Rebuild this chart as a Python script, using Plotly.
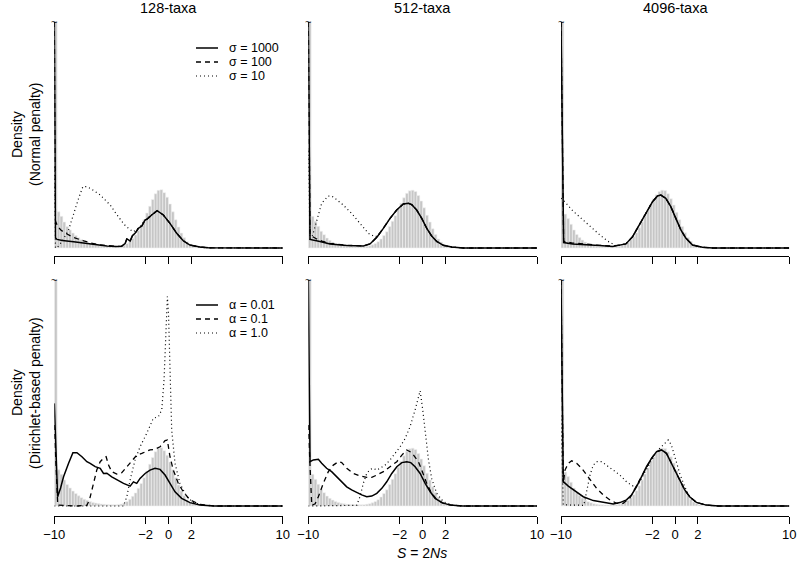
import plotly.graph_objects as go
from plotly.subplots import make_subplots

W, H = 797, 566

# ---------------- data ----------------
HIST_EDGES = [-10.0, -9.75, -9.5, -9.25, -9.0, -8.75, -8.5, -8.25, -8.0, -7.75,
              -7.5, -7.25, -7.0, -6.75, -6.5, -6.25, -6.0, -5.75, -5.5, -5.25,
              -5.0, -4.75, -4.5, -4.25, -4.0, -3.75, -3.5, -3.25, -3.0, -2.75,
              -2.5, -2.25, -2.0, -1.75, -1.5, -1.25, -1.0, -0.75, -0.5, -0.25,
              0.0, 0.25, 0.5, 0.75, 1.0, 1.25, 1.5, 1.75, 2.0, 2.25,
              2.5, 2.75, 3.0, 3.25]
BIN_W = 0.25

HIST_128 = [1.5, 0.16, 0.14, 0.115, 0.095, 0.08, 0.066, 0.055, 0.045, 0.037,
            0.03, 0.025, 0.02, 0.016, 0.013, 0.011, 0.009, 0.008, 0.007, 0.006,
            0.006, 0.006, 0.007, 0.009, 0.013, 0.02, 0.03, 0.043, 0.058, 0.078,
            0.1, 0.125, 0.155, 0.185, 0.215, 0.24, 0.255, 0.258, 0.245, 0.225,
            0.195, 0.16, 0.125, 0.093, 0.066, 0.045, 0.028, 0.017, 0.01, 0.006,
            0.003, 0.002, 0.001, 0.0]
HIST_512 = [1.5, 0.14, 0.118, 0.096, 0.074, 0.059, 0.044, 0.034, 0.026, 0.02,
            0.015, 0.012, 0.01, 0.008, 0.007, 0.006, 0.005, 0.005, 0.005, 0.006,
            0.008, 0.01, 0.014, 0.02, 0.028, 0.04, 0.055, 0.072, 0.095, 0.118,
            0.143, 0.172, 0.198, 0.222, 0.242, 0.253, 0.256, 0.25, 0.232, 0.208,
            0.178, 0.145, 0.115, 0.085, 0.06, 0.04, 0.026, 0.016, 0.009, 0.005,
            0.003, 0.001, 0.0, 0.0]
HIST_4096 = [1.5, 0.15, 0.13, 0.105, 0.08, 0.06, 0.046, 0.035, 0.026, 0.019,
             0.014, 0.01, 0.008, 0.006, 0.005, 0.004, 0.004, 0.004, 0.005, 0.006,
             0.008, 0.012, 0.017, 0.025, 0.036, 0.05, 0.068, 0.09, 0.115, 0.142,
             0.168, 0.195, 0.218, 0.236, 0.25, 0.256, 0.254, 0.24, 0.218, 0.19,
             0.158, 0.125, 0.095, 0.068, 0.046, 0.03, 0.018, 0.011, 0.006, 0.003,
             0.001, 0.0, 0.0, 0.0]

# Normal penalty, 128 taxa
N128_S1000_X = [-10, -9.9, -9.76, -9.3, -8.31, -7.5, -6.86, -6.0, -5.4, -4.6, -4.1, -3.8, -3.65, -3.5, -3.36, -3.15, -2.93, -2.64, -2.49, -2.34, -2.05, -1.9, -1.47, -1.0, -0.45, 0.13, 0.72, 1.29, 1.88, 2.75, 3.5, 10]
N128_S1000_Y = [1.0, 0.045, 0.038, 0.033, 0.028, 0.022, 0.018, 0.013, 0.009, 0.007, 0.008, 0.02, 0.04, 0.036, 0.031, 0.055, 0.065, 0.087, 0.094, 0.097, 0.124, 0.127, 0.146, 0.165, 0.146, 0.109, 0.065, 0.032, 0.013, 0.004, 0.001, 0.0]
N128_S100_X = [-10, -9.9, -9.7, -9.4, -9.0, -8.3, -7.5, -6.8, -6.0, -5.2, -4.6, -4.1, -3.8, -3.65, -3.5, -3.36, -3.15, -2.93, -2.64, -2.49, -2.34, -2.05, -1.9, -1.47, -1.0, -0.45, 0.13, 0.72, 1.29, 1.88, 2.75, 3.5, 10]
N128_S100_Y = [1.0, 0.12, 0.095, 0.078, 0.065, 0.046, 0.033, 0.022, 0.014, 0.009, 0.007, 0.008, 0.02, 0.04, 0.036, 0.031, 0.055, 0.065, 0.087, 0.094, 0.097, 0.124, 0.127, 0.146, 0.165, 0.146, 0.109, 0.065, 0.032, 0.013, 0.004, 0.001, 0.0]
N128_S10_X = [-10, -9.9, -9.7, -9.3, -8.75, -8.31, -7.87, -7.5, -7.2, -6.86, -6.4, -5.98, -5.5, -5.1, -4.7, -4.24, -3.9, -3.51, -3.1, -2.8, -2.49, -2.05, -1.47, -1.0, -0.45, 0.13, 0.72, 1.29, 1.88, 2.75, 3.5, 10]
N128_S10_Y = [0.36, 0.0, 0.005, 0.03, 0.08, 0.153, 0.22, 0.271, 0.272, 0.264, 0.25, 0.235, 0.21, 0.19, 0.16, 0.131, 0.105, 0.087, 0.072, 0.08, 0.094, 0.124, 0.146, 0.165, 0.146, 0.109, 0.065, 0.032, 0.013, 0.004, 0.001, 0.0]

# Normal penalty, 512 taxa
N512_S1000_X = [-10, -9.85, -8.98, -8.1, -6.64, -5.18, -4.6, -4.0, -3.44, -2.85, -2.27, -1.69, -1.25, -0.96, -0.52, -0.08, 0.36, 0.79, 1.23, 1.81, 2.54, 3.56, 10]
N512_S1000_Y = [1.0, 0.038, 0.029, 0.018, 0.011, 0.009, 0.018, 0.048, 0.087, 0.131, 0.168, 0.195, 0.198, 0.192, 0.168, 0.131, 0.087, 0.053, 0.029, 0.012, 0.004, 0.0, 0.0]
N512_S100_X = [-10, -9.85, -9.6, -9.27, -8.8, -8.1, -6.64, -5.18, -4.6, -4.0, -3.44, -2.85, -2.27, -1.69, -1.25, -0.96, -0.52, -0.08, 0.36, 0.79, 1.23, 1.81, 2.54, 3.56, 10]
N512_S100_Y = [1.0, 0.06, 0.05, 0.04, 0.03, 0.02, 0.012, 0.009, 0.018, 0.048, 0.087, 0.131, 0.168, 0.195, 0.198, 0.192, 0.168, 0.131, 0.087, 0.053, 0.029, 0.012, 0.004, 0.0, 0.0]
N512_S10_X = [-10, -9.85, -9.6, -9.27, -8.83, -8.25, -7.9, -7.67, -6.94, -6.21, -5.48, -4.75, -4.16, -3.9, -3.44, -2.85, -2.27, -1.69, -1.25, -0.96, -0.52, -0.08, 0.36, 0.79, 1.23, 1.81, 2.54, 3.56, 10]
N512_S10_Y = [0.43, 0.03, 0.06, 0.124, 0.198, 0.23, 0.228, 0.22, 0.19, 0.153, 0.109, 0.065, 0.05, 0.055, 0.087, 0.131, 0.168, 0.195, 0.198, 0.192, 0.168, 0.131, 0.087, 0.053, 0.029, 0.012, 0.004, 0.0, 0.0]

# Normal penalty, 4096 taxa
N4096_S1000_X = [-10, -9.77, -8.98, -7.82, -6.65, -5.48, -4.9, -4.32, -3.73, -3.15, -2.57, -1.98, -1.55, -1.25, -0.82, -0.38, 0.06, 0.5, 0.93, 1.52, 2.4, 3.3, 10]
N4096_S1000_Y = [1.0, 0.024, 0.018, 0.013, 0.011, 0.007, 0.012, 0.018, 0.05, 0.1, 0.153, 0.205, 0.23, 0.234, 0.22, 0.183, 0.131, 0.08, 0.044, 0.013, 0.003, 0.0, 0.0]
N4096_S100_X = [-10, -9.77, -8.98, -7.82, -6.65, -5.48, -4.9, -4.32, -3.73, -3.15, -2.57, -1.98, -1.55, -1.25, -0.82, -0.38, 0.06, 0.5, 0.93, 1.52, 2.4, 3.3, 10]
N4096_S100_Y = [1.0, 0.03, 0.022, 0.016, 0.012, 0.008, 0.012, 0.018, 0.05, 0.1, 0.153, 0.205, 0.23, 0.234, 0.22, 0.183, 0.131, 0.08, 0.044, 0.013, 0.003, 0.0, 0.0]
N4096_S10_X = [-10, -9.8, -8.98, -7.8, -6.6, -5.9, -5.19, -4.9, -4.32, -3.73, -3.15, -2.57, -1.98, -1.55, -1.25, -0.82, -0.38, 0.06, 0.5, 0.93, 1.52, 2.4, 3.3, 10]
N4096_S10_Y = [0.22, 0.212, 0.165, 0.11, 0.058, 0.03, 0.01, 0.012, 0.018, 0.05, 0.1, 0.153, 0.205, 0.23, 0.234, 0.22, 0.183, 0.131, 0.08, 0.044, 0.013, 0.003, 0.0, 0.0]

# Dirichlet-based penalty, 128 taxa
D128_A001_X = [-10, -9.71, -9.45, -9.19, -8.75, -8.37, -8.02, -7.58, -7.15, -6.86, -6.42, -5.98, -5.69, -5.4, -4.97, -4.53, -3.94, -3.36, -3.07, -2.78, -2.49, -2.05, -1.62, -1.18, -0.74, -0.3, 0.13, 0.57, 1.15, 1.88, 2.75, 4.0, 10]
D128_A001_Y = [0.454, 0.041, 0.08, 0.129, 0.189, 0.236, 0.236, 0.218, 0.196, 0.189, 0.174, 0.167, 0.144, 0.145, 0.129, 0.115, 0.1, 0.088, 0.107, 0.1, 0.122, 0.144, 0.159, 0.167, 0.162, 0.137, 0.1, 0.063, 0.034, 0.015, 0.004, 0.0, 0.0]
D128_A01_X = [-10, -9.7, -8.0, -7.15, -6.92, -6.57, -6.28, -5.98, -5.69, -5.46, -5.25, -4.97, -4.53, -4.09, -3.65, -3.22, -2.78, -2.34, -1.96, -1.62, -1.18, -0.74, -0.3, -0.1, 0.13, 0.42, 0.86, 1.29, 1.88, 2.75, 4.0, 10]
D128_A01_Y = [0.358, 0.004, 0.0, 0.003, 0.027, 0.1, 0.159, 0.196, 0.211, 0.218, 0.181, 0.152, 0.141, 0.147, 0.174, 0.203, 0.225, 0.233, 0.24, 0.248, 0.251, 0.262, 0.289, 0.292, 0.218, 0.159, 0.1, 0.063, 0.027, 0.007, 0.0, 0.0]
D128_A1_X = [-10, -3.94, -3.65, -3.36, -2.93, -2.49, -1.91, -1.33, -0.89, -0.59, -0.39, -0.22, -0.1, 0.0, 0.13, 0.28, 0.57, 1.0, 1.59, 2.17, 3.04, 4.0, 10]
D128_A1_Y = [0.0, 0.0, 0.041, 0.115, 0.203, 0.262, 0.321, 0.388, 0.395, 0.425, 0.558, 0.75, 0.927, 0.853, 0.558, 0.336, 0.189, 0.1, 0.041, 0.016, 0.003, 0.0, 0.0]

# Dirichlet-based penalty, 512 taxa
D512_A001_X = [-10, -9.85, -9.56, -9.12, -8.83, -8.4, -7.96, -7.52, -7.08, -6.64, -6.21, -5.77, -5.33, -4.89, -4.45, -4.01, -3.57, -3.14, -2.7, -2.26, -1.82, -1.39, -1.04, -0.66, -0.22, 0.22, 0.66, 1.09, 1.68, 2.41, 3.5, 10]
D512_A001_Y = [1.0, 0.196, 0.204, 0.207, 0.189, 0.167, 0.152, 0.129, 0.107, 0.085, 0.071, 0.059, 0.049, 0.041, 0.044, 0.056, 0.078, 0.107, 0.144, 0.174, 0.192, 0.196, 0.192, 0.174, 0.144, 0.1, 0.063, 0.034, 0.015, 0.004, 0.0, 0.0]
D512_A01_X = [-10, -9.7, -9.4, -9.12, -8.69, -8.25, -7.81, -7.37, -7.08, -6.64, -6.06, -5.48, -4.89, -4.45, -4.01, -3.43, -2.85, -2.26, -1.82, -1.39, -0.95, -0.66, -0.37, -0.08, 0.36, 0.79, 1.23, 1.81, 2.6, 3.5, 10]
D512_A01_Y = [0.358, 0.003, 0.01, 0.041, 0.1, 0.152, 0.181, 0.196, 0.192, 0.167, 0.144, 0.133, 0.127, 0.127, 0.137, 0.152, 0.174, 0.196, 0.225, 0.248, 0.236, 0.218, 0.196, 0.159, 0.1, 0.056, 0.029, 0.012, 0.003, 0.0, 0.0]
D512_A1_X = [-10, -5.77, -5.48, -5.19, -4.89, -4.6, -4.31, -4.01, -3.72, -3.28, -2.85, -2.41, -1.97, -1.53, -1.1, -0.66, -0.37, -0.22, 0.01, 0.22, 0.51, 0.79, 1.23, 1.81, 2.6, 3.5, 10]
D512_A1_Y = [0.0, 0.003, 0.041, 0.1, 0.144, 0.162, 0.167, 0.159, 0.167, 0.181, 0.204, 0.233, 0.262, 0.299, 0.351, 0.425, 0.491, 0.51, 0.425, 0.322, 0.204, 0.122, 0.056, 0.019, 0.004, 0.0, 0.0]

# Dirichlet-based penalty, 4096 taxa
D4096_A001_X = [-10, -9.8, -9.36, -8.78, -8.05, -7.17, -6.3, -5.43, -4.84, -4.26, -3.82, -3.39, -2.95, -2.51, -2.07, -1.64, -1.2, -0.76, -0.33, -0.04, 0.4, 0.84, 1.27, 1.86, 2.73, 3.8, 10]
D4096_A001_Y = [1.0, 0.108, 0.088, 0.067, 0.041, 0.024, 0.015, 0.009, 0.015, 0.027, 0.049, 0.085, 0.129, 0.174, 0.211, 0.24, 0.248, 0.233, 0.189, 0.159, 0.115, 0.071, 0.041, 0.016, 0.004, 0.0, 0.0]
D4096_A01_X = [-10, -9.8, -9.65, -9.36, -9.07, -8.63, -8.19, -7.75, -7.32, -6.88, -6.3, -5.71, -5.13, -4.55, -3.97, -3.82, -3.39, -2.95, -2.51, -2.07, -1.64, -1.2, -0.76, -0.33, -0.04, 0.4, 0.84, 1.27, 1.86, 2.73, 3.8, 10]
D4096_A01_Y = [1.0, 0.1, 0.159, 0.189, 0.2, 0.189, 0.167, 0.137, 0.107, 0.078, 0.049, 0.027, 0.012, 0.012, 0.035, 0.049, 0.085, 0.129, 0.174, 0.211, 0.24, 0.248, 0.233, 0.189, 0.159, 0.115, 0.071, 0.041, 0.016, 0.004, 0.0, 0.0]
D4096_A1_X = [-10, -9.8, -8.0, -7.75, -7.46, -7.17, -6.88, -6.44, -6.0, -5.43, -4.84, -4.26, -3.68, -3.24, -2.8, -2.22, -1.64, -1.05, -0.61, -0.33, -0.04, 0.4, 0.84, 1.27, 1.86, 2.8, 3.8, 10]
D4096_A1_Y = [0.4, 0.005, 0.003, 0.068, 0.137, 0.181, 0.196, 0.196, 0.181, 0.159, 0.137, 0.107, 0.088, 0.093, 0.137, 0.189, 0.24, 0.27, 0.292, 0.27, 0.218, 0.144, 0.085, 0.041, 0.015, 0.003, 0.0, 0.0]

COL_TITLES = ["128-taxa", "512-taxa", "4096-taxa"]
SIGMA_LABELS = ["σ = 1000", "σ = 100", "σ = 10"]
ALPHA_LABELS = ["α = 0.01", "α = 0.1", "α = 1.0"]
XTICKS = [-10, -2, 0, 2, 10]
XTICK_TEXT = ["\u221210", "\u22122", "0", "2", "10"]

# ---------------- figure ----------------
FONT = "Liberation Sans, Arial, Helvetica, sans-serif"
DASHES = ["solid", "5px,4px", "1px,3px"]
WIDTHS = [1.5, 1.3, 1.2]

panels = [
    (1, 1, HIST_128, [(N128_S1000_X, N128_S1000_Y), (N128_S100_X, N128_S100_Y), (N128_S10_X, N128_S10_Y)]),
    (1, 2, HIST_512, [(N512_S1000_X, N512_S1000_Y), (N512_S100_X, N512_S100_Y), (N512_S10_X, N512_S10_Y)]),
    (1, 3, HIST_4096, [(N4096_S1000_X, N4096_S1000_Y), (N4096_S100_X, N4096_S100_Y), (N4096_S10_X, N4096_S10_Y)]),
    (2, 1, HIST_128, [(D128_A001_X, D128_A001_Y), (D128_A01_X, D128_A01_Y), (D128_A1_X, D128_A1_Y)]),
    (2, 2, HIST_512, [(D512_A001_X, D512_A001_Y), (D512_A01_X, D512_A01_Y), (D512_A1_X, D512_A1_Y)]),
    (2, 3, HIST_4096, [(D4096_A001_X, D4096_A001_Y), (D4096_A01_X, D4096_A01_Y), (D4096_A1_X, D4096_A1_Y)]),
]

fig = make_subplots(rows=2, cols=3)

for r, c, hist, curves in panels:
    n = min(len(hist), len(HIST_EDGES))
    centers = [e + BIN_W / 2 for e in HIST_EDGES[:n]]
    fig.add_trace(go.Bar(x=centers, y=hist[:n], width=BIN_W,
                         marker=dict(color="#c6c6c6", line=dict(color="#f2f2f2", width=0.6)),
                         showlegend=False, hoverinfo="skip"), row=r, col=c)
    for k, (xs, ys) in enumerate(curves):
        fig.add_trace(go.Scatter(x=xs, y=ys, mode="lines",
                                 line=dict(color="black", width=WIDTHS[k], dash=DASHES[k]),
                                 showlegend=False, hoverinfo="skip"), row=r, col=c)

# geometry (pixels -> paper)
col_px = [(54.3, 282.7), (308.3, 537.0), (561.0, 789.3)]
row_px = [(22.0, 255.5, 248.0), (280.0, 515.7, 506.0)]  # top, axis line, baseline


def px(xp):
    return xp / W


def py(yp):
    return 1 - yp / H


for r in range(2):
    top, axis_y, base = row_px[r]
    scale = base - top
    ymin = -(axis_y - base) / scale
    for c in range(3):
        idx = r * 3 + c + 1
        xa = "xaxis" if idx == 1 else f"xaxis{idx}"
        ya = "yaxis" if idx == 1 else f"yaxis{idx}"
        fig.layout[xa].update(domain=[px(col_px[c][0]), px(col_px[c][1])], range=[-10, 10],
                              automargin=False,
                              showgrid=False, zeroline=False, showline=True, linecolor="black",
                              linewidth=1, ticks="outside", ticklen=7, tickcolor="black",
                              tickwidth=1, tickvals=XTICKS, ticktext=XTICK_TEXT,
                              showticklabels=(r == 1),
                              tickfont=dict(family=FONT, size=13, color="black"))
        fig.layout[ya].update(domain=[py(axis_y), py(top)], range=[ymin, 1.0], visible=False,
                              automargin=False)
        fig.add_annotation(x=-10, y=1.0, xref=xa.replace("axis", ""), yref=ya.replace("axis", ""),
                           text="~", showarrow=False, font=dict(family=FONT, size=11, color="black"),
                           yanchor="middle", xanchor="center")

# column titles
for c, t in enumerate(COL_TITLES):
    cx = (col_px[c][0] + col_px[c][1]) / 2
    fig.add_annotation(x=px(cx), y=py(8), xref="paper", yref="paper", text=t, showarrow=False,
                       font=dict(family=FONT, size=14.5, color="black"), xanchor="center", yanchor="middle")
# y labels
for r, sub in enumerate(["(Normal penalty)", "(Dirichlet-based penalty)"]):
    cy = (row_px[r][0] + row_px[r][2]) / 2
    fig.add_annotation(x=px(17), y=py(cy), xref="paper", yref="paper", text="Density", showarrow=False,
                       textangle=-90, font=dict(family=FONT, size=14, color="black"),
                       xanchor="center", yanchor="middle")
    fig.add_annotation(x=px(35), y=py(cy), xref="paper", yref="paper", text=sub, showarrow=False,
                       textangle=-90, font=dict(family=FONT, size=14, color="black"),
                       xanchor="center", yanchor="middle")
# x title
fig.add_annotation(x=px(422), y=py(553), xref="paper", yref="paper", text="<i>S</i> = 2<i>Ns</i>",
                   showarrow=False, font=dict(family=FONT, size=14, color="black"),
                   xanchor="center", yanchor="middle")

# legends
legend_rows = [([48, 62, 76], SIGMA_LABELS), ([305, 319, 333], ALPHA_LABELS)]
for ys, labels in legend_rows:
    for k, (yp, lab) in enumerate(zip(ys, labels)):
        fig.add_shape(type="line", xref="paper", yref="paper", x0=px(196), x1=px(218),
                      y0=py(yp), y1=py(yp),
                      line=dict(color="black", width=WIDTHS[k], dash=DASHES[k]))
        fig.add_annotation(x=px(227), y=py(yp), xref="paper", yref="paper", text=lab, showarrow=False,
                           font=dict(family=FONT, size=12.5, color="black"),
                           xanchor="left", yanchor="middle")

fig.update_layout(template="none", width=W, height=H,
                  margin=dict(l=0, r=0, t=0, b=0, pad=0, autoexpand=False),
                  paper_bgcolor="white", plot_bgcolor="white", barmode="overlay", bargap=0,
                  showlegend=False, font=dict(family=FONT, color="black"), hovermode=False)

fig.write_html("out.html",
               config={"displayModeBar": False, "staticPlot": True},
               post_script="document.body.style.margin='0px';document.body.style.padding='0px';"
                           "document.body.style.overflow='hidden';")
